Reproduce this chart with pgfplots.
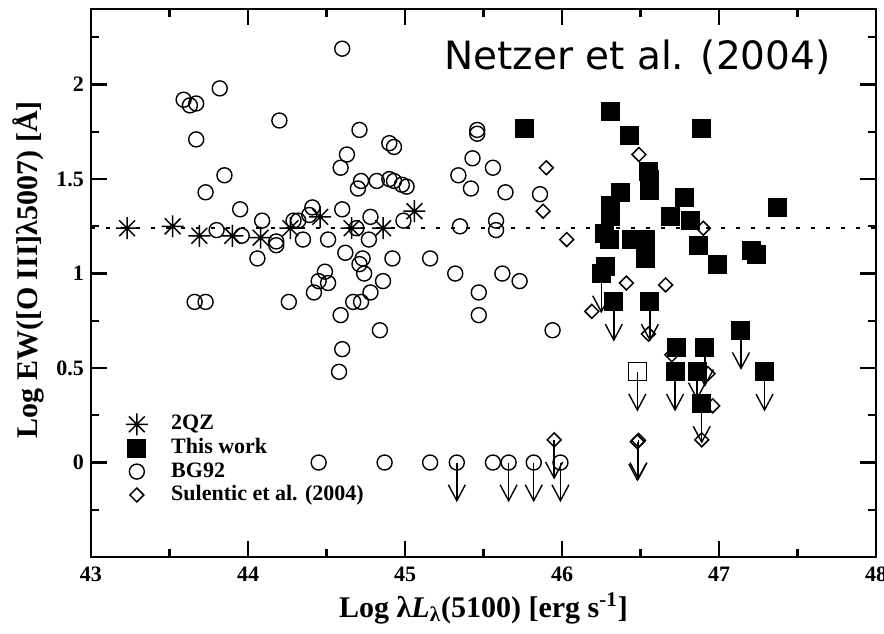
\documentclass[border=0pt]{standalone}
\usepackage{pgfplots}
\pgfplotsset{compat=1.18}
\usepackage{fontspec}
\setmainfont{Liberation Serif}
\newfontfamily\titlefont{DejaVu Sans}
\usetikzlibrary{arrows.meta}
\pgfdeclareplotmark{star8}{%
  \pgfpathmoveto{\pgfqpoint{0pt}{\pgfplotmarksize}}\pgfpathlineto{\pgfqpoint{0pt}{-\pgfplotmarksize}}%
  \pgfpathmoveto{\pgfqpoint{\pgfplotmarksize}{0pt}}\pgfpathlineto{\pgfqpoint{-\pgfplotmarksize}{0pt}}%
  \pgfpathmoveto{\pgfqpoint{.72\pgfplotmarksize}{.72\pgfplotmarksize}}\pgfpathlineto{\pgfqpoint{-.72\pgfplotmarksize}{-.72\pgfplotmarksize}}%
  \pgfpathmoveto{\pgfqpoint{-.72\pgfplotmarksize}{.72\pgfplotmarksize}}\pgfpathlineto{\pgfqpoint{.72\pgfplotmarksize}{-.72\pgfplotmarksize}}%
  \pgfusepathqstroke}
\pgfplotsset{
  circ/.style={only marks, mark=o, mark size=3.75pt, mark options={line width=0.7pt, black}, black},
  sqr/.style={only marks, mark=square*, mark size=4.5pt, mark options={fill=black, draw=black, line width=0.5pt}, black},
  dia/.style={only marks, mark=square, mark size=2.45pt, mark options={rotate=45, line width=0.75pt, black}, black},
  ast/.style={only marks, mark=star8, mark size=5.5pt, mark options={line width=0.75pt, black}, black},
  arr/.style={forget plot, black, line width=0.7pt, -{Straight Barb[length=8pt,width=8.5pt]}},
}
\begin{document}
\begin{tikzpicture}
\begin{axis}[
  scale only axis, width=392.5pt, height=274pt,
  xmin=43, xmax=48, ymin=-0.5, ymax=2.4,
  xtick={43,44,45,46,47,48}, minor xtick={43.5,44.5,45.5,46.5,47.5},
  ytick={0,0.5,1,1.5,2}, minor ytick={-0.25,0.25,0.75,1.25,1.75,2.25},
  tick align=inside, xtick pos=both, ytick pos=both,
  major tick length=8pt, minor tick length=4pt,
  tick style={line width=1.1pt, black},
  axis line style={line width=1.2pt},
  /pgf/number format/assume math mode=true,
  tick label style={font=\fontsize{11}{13}\selectfont\bfseries},
  xticklabel style={yshift=-1.5pt},
  xlabel={Log λ\textit{L}\textsubscript{λ}(5100) [erg s\textsuperscript{-1}]},
  ylabel={Log EW([O III]λ5007) [Å]},
  label style={font=\fontsize{15}{17}\selectfont\bfseries},
  xlabel style={at={(axis description cs:0.5,0)}, anchor=base, yshift=-30pt},
  ylabel style={at={(axis description cs:-0.08,0.524)}, anchor=center},
  legend style={draw=none, fill=none, at={(rel axis cs:0.037,0.263)}, anchor=north west,
    inner sep=0pt, row sep=1.2pt,
    nodes={inner sep=0pt, font=\fontsize{11}{13}\selectfont\bfseries, text height=8pt, text depth=2.5pt}},
  legend cell align=left,
  legend image code/.code={\path (-8pt,0pt) (17pt,0pt); \draw[#1] plot coordinates {(0pt,0pt)};},
]
\addlegendimage{ast}\addlegendentry{2QZ}
\addlegendimage{sqr}\addlegendentry{This work}
\addlegendimage{circ}\addlegendentry{BG92}
\addlegendimage{dia}\addlegendentry{Sulentic et al. (2004)}

% BG92
\addplot[circ, forget plot] coordinates {
(44.60,2.19) (43.59,1.92) (43.63,1.89) (43.67,1.90) (43.82,1.98) (44.20,1.81)
(43.67,1.71) (44.71,1.76) (44.90,1.69) (44.93,1.67) (44.63,1.63) (44.59,1.56)
(43.85,1.52) (44.72,1.49) (44.70,1.45) (44.82,1.49) (44.90,1.50) (44.93,1.49)
(44.98,1.47) (45.01,1.46) (43.73,1.43) (43.95,1.34) (44.60,1.34) (44.41,1.35)
(44.39,1.31) (44.09,1.28) (44.29,1.28) (44.32,1.28) (44.78,1.30) (43.80,1.23)
(43.96,1.20) (44.18,1.17) (44.18,1.15) (44.35,1.18) (44.51,1.18) (44.69,1.24)
(44.77,1.18) (44.62,1.11) (44.06,1.08) (44.73,1.08) (44.71,1.05) (44.74,1.00)
(44.92,1.08) (44.49,1.01) (44.45,0.96) (44.51,0.95) (44.42,0.90) (44.86,0.96)
(44.78,0.90) (43.66,0.85) (43.73,0.85) (44.26,0.85) (44.59,0.78) (44.67,0.85)
(44.72,0.85) (44.84,0.70) (44.60,0.60) (44.58,0.48) (44.99,1.28)
(45.46,1.76) (45.46,1.74) (45.43,1.61) (45.56,1.56) (45.34,1.52) (45.42,1.45)
(45.64,1.43) (45.86,1.42) (45.35,1.25) (45.58,1.28) (45.58,1.23) (45.16,1.08)
(45.32,1.00) (45.62,1.00) (45.73,0.96) (45.47,0.90) (45.47,0.78) (45.94,0.70)
(44.45,0) (44.87,0) (45.16,0) (45.33,0) (45.56,0) (45.66,0) (45.82,0) (45.99,0)
};
% Sulentic et al. (2004)
\addplot[dia, forget plot] coordinates {
(45.90,1.56) (45.88,1.33) (46.03,1.18) (46.49,1.63) (46.90,1.24) (46.41,0.95)
(46.66,0.94) (46.19,0.80) (46.55,0.68) (46.70,0.57) (46.93,0.47) (46.96,0.30)
(46.89,0.12) (46.48,0.11) (46.487,0.117) (45.95,0.12)
};
% This work (open square)
\addplot[only marks, mark=square, mark size=4.5pt, mark options={line width=0.6pt, black}, forget plot] coordinates {(46.48,0.48)};
% This work
\addplot[sqr, forget plot] coordinates {
(45.76,1.77) (46.31,1.86) (46.43,1.73) (46.89,1.77) (46.55,1.54) (46.56,1.50)
(46.56,1.44) (46.37,1.43) (46.31,1.36) (46.31,1.30) (46.78,1.40) (47.37,1.35)
(46.69,1.30) (46.82,1.28) (46.27,1.21) (46.30,1.18) (46.44,1.18) (46.53,1.18)
(46.53,1.08) (46.87,1.15) (46.99,1.05) (47.21,1.12) (47.24,1.10) (46.28,1.04)
(46.25,1.00) (46.33,0.85) (46.56,0.85) (47.14,0.70) (46.73,0.61) (46.91,0.61)
(46.72,0.48) (46.86,0.48) (47.29,0.48) (46.89,0.31)
};
% 2QZ
\addplot[ast, forget plot] coordinates {
(43.23,1.24) (43.52,1.25) (43.69,1.20) (43.90,1.20) (44.08,1.19) (44.27,1.24)
(44.46,1.30) (44.66,1.24) (44.86,1.24) (45.06,1.33)
};
% upper limits
\addplot[arr, quiver={u=0, v=-0.21}] coordinates {
(45.33,0) (45.66,0) (45.82,0) (45.99,0)
(45.95,0.12) (46.48,0.11) (46.487,0.117)
(46.25,1.00) (46.33,0.85) (46.56,0.85) (47.14,0.70) (46.91,0.61)
(46.48,0.48) (46.72,0.48) (47.29,0.48) (46.89,0.31)
};
\addplot[arr, quiver={u=0, v=-0.15}] coordinates {(46.86,0.48)};
% mean line
\addplot[forget plot, black, line width=1pt, dash pattern=on 2pt off 5.5pt] coordinates {(43,1.24) (48,1.24)};
\node[font=\titlefont\fontsize{19.5}{23}\selectfont, anchor=base] at (axis cs:46.48,2.08) {Netzer et al. (2004)};
\coordinate (sw) at (rel axis cs:0,0);
\coordinate (ne) at (rel axis cs:1,1);
\end{axis}
\pgfresetboundingbox
\path[use as bounding box] ([shift={(-45.5pt,-38pt)}]sw) rectangle ([shift={(4pt,4.5pt)}]ne);
\end{tikzpicture}
\end{document}
